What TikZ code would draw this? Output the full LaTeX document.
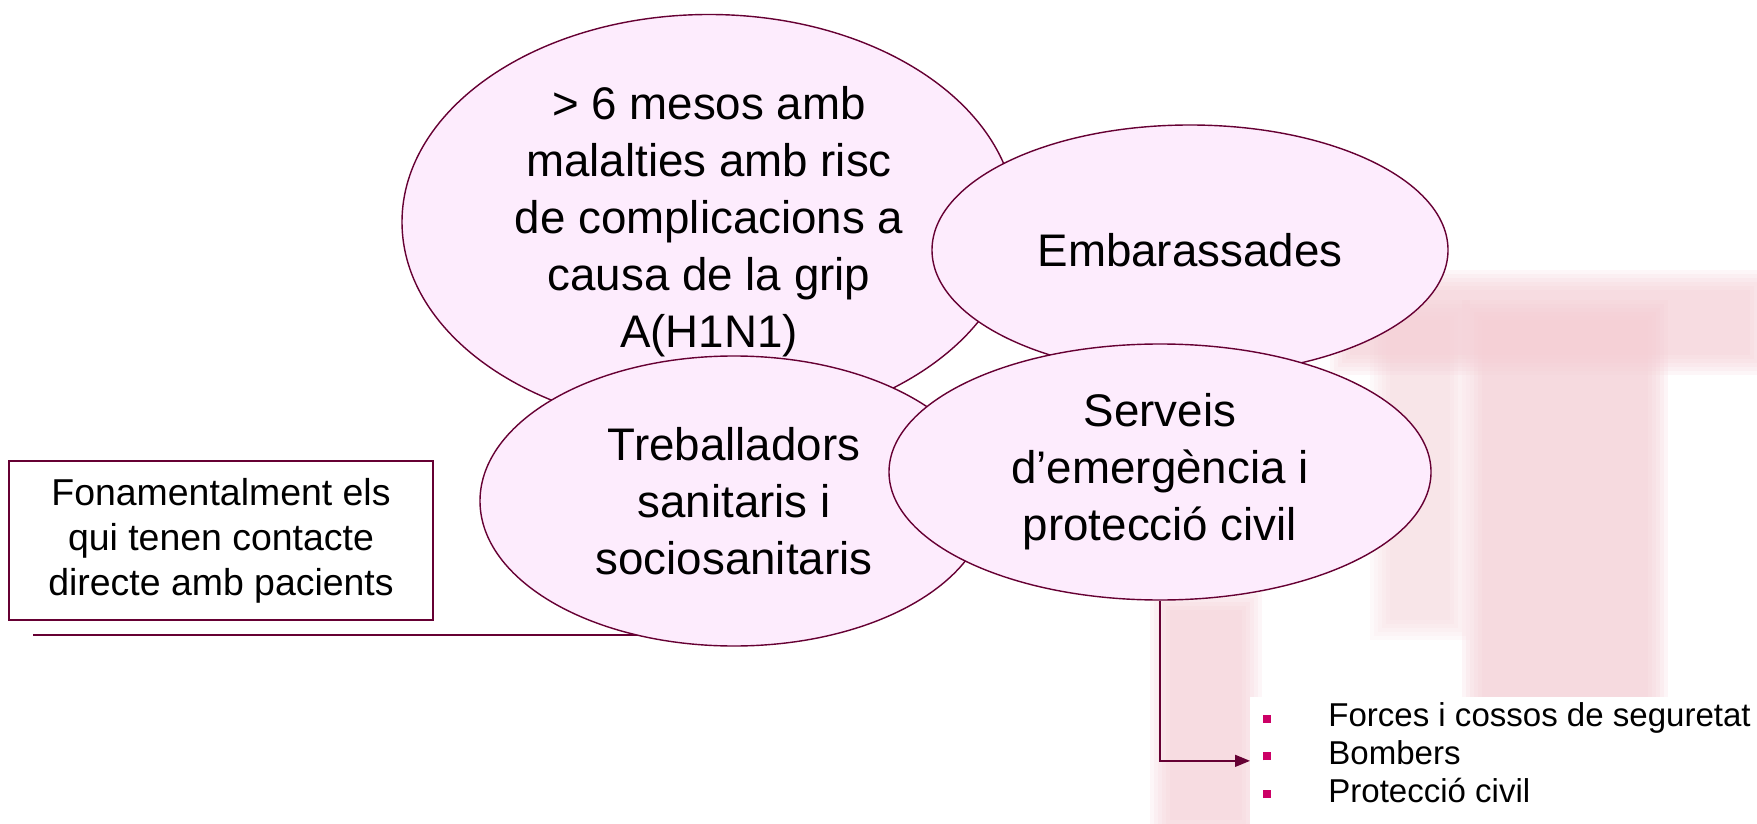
\documentclass[tikz,border=0pt]{standalone}
\usepackage{fontspec}
\setmainfont{Liberation Sans}
\usetikzlibrary{shapes.geometric}
\usetikzlibrary{arrows.meta}
\usetikzlibrary{backgrounds}
\definecolor{rim}{RGB}{102,0,51}
\definecolor{blush}{RGB}{253,236,253}
\definecolor{dotpink}{RGB}{204,0,102}
\definecolor{wash}{RGB}{245,205,212}
\tikzstyle{group}=[ellipse, draw=rim, fill=blush, line width=0.8pt, align=center, inner sep=0pt, font=\fontsize{26}{32.4}\selectfont]
\tikzstyle{note}=[draw=rim, fill=white, line width=0.8pt, align=center, font=\fontsize{21.3}{25.6}\selectfont]
\tikzstyle{link}=[rim, line width=0.8pt]
\tikzstyle{items}=[inner sep=0pt, align=left, font=\fontsize{18.8}{21.5}\selectfont]
\newcommand{\dotitem}{\raisebox{0.085cm}{\textcolor{dotpink}{\rule{0.16cm}{0.16cm}}}\hspace{1.14cm}}
% soft-edged block of the faded backdrop
\newcommand{\softblock}[5]{\foreach \d in {0,4,...,20} {\fill[wash, opacity=#5] (#1+\d,#2+\d) rectangle (#3-\d,#4-\d);}}

\begin{document}
\begin{tikzpicture}[x=0.2mm, y=-0.2mm]
  \useasboundingbox (0,0) rectangle (1757,824);

  \node[group, minimum width=12.28cm, minimum height=8.3cm] (risk) at (709,222)
    {> 6 mesos amb\\malalties amb risc\\de complicacions a\\causa de la grip\\A(H1N1)};
  \node[group, minimum width=10.32cm, minimum height=5cm] (preg) at (1190,250)
    {Embarassades};
  \node[group, minimum width=10.16cm, minimum height=5.8cm] (care) at (734,501)
    {Treballadors\\sanitaris i\\sociosanitaris};
  \node[group, minimum width=10.84cm, minimum height=5.12cm] (civil) at (1160,472)
    {Serveis\\d’emergència i\\protecció civil};

  \node[note, minimum width=8.48cm, minimum height=3.18cm] (contact) at (221,540.5)
    {Fonamentalment els\\qui tenen contacte\\directe amb pacients};

  \node[anchor=north west, fill=white, inner sep=0pt, minimum width=10.14cm, minimum height=2.54cm] (panel) at (1250,697) {};
  \node[items, anchor=west] (corps) at ([xshift=0.26cm, yshift=0.16cm]panel.west)
    {\dotitem Forces i cossos de seguretat\\\dotitem Bombers\\\dotitem Protecció civil};

  \coordinate (lead) at (33,635);

  \begin{scope}[on background layer]
    \fill[white] (0,0) rectangle (1757,824);
    % faded backdrop
    \softblock{1330}{270}{1770}{375}{0.16}
    \softblock{1462}{300}{1668}{840}{0.18}
    \softblock{1370}{300}{1470}{640}{0.10}
    \softblock{1150}{590}{1262}{840}{0.16}
    % connectors
    \draw[link] (lead) -- (lead -| care.center);
    \draw[link, -{Triangle[length=0.3cm, width=0.24cm]}] (civil.south) |- (panel.west);
  \end{scope}
\end{tikzpicture}
\end{document}
